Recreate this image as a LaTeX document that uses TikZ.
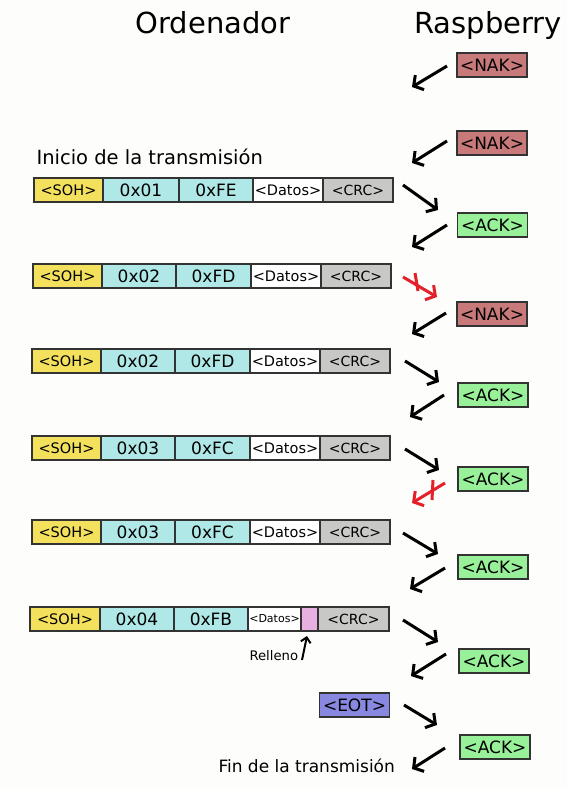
\documentclass[tikz,border=0pt]{standalone}
\usepackage{fontspec}
\setmainfont{DejaVu Sans}
\usetikzlibrary{arrows.meta}
\definecolor{bgc}{HTML}{FDFDFB}
\definecolor{sohc}{HTML}{F3E15E}
\definecolor{cyc}{HTML}{AFE8E6}
\definecolor{crcc}{HTML}{C8C8C6}
\definecolor{nakc}{HTML}{C87A7A}
\definecolor{ackc}{HTML}{98F098}
\definecolor{eotc}{HTML}{8888E0}
\definecolor{pinkc}{HTML}{E8B0E0}
\definecolor{bordc}{HTML}{333333}
\definecolor{redc}{HTML}{E4202A}
\newcommand\fs[1]{\fontsize{#1}{#1}\selectfont}
\newcommand\pktrow[7]{%
 \node[seg,fill=sohc,minimum width=69pt,anchor=north west,font=\fs{14.5}] (#1s) at (#2,#3) {<SOH>};
 \node[seg,fill=cyc,minimum width=#6pt,anchor=west] (#1n) at (#1s.east) {#4};
 \node[seg,fill=cyc,minimum width=#7pt,anchor=west] (#1c) at (#1n.east) {#5};
 \node[seg,fill=white,minimum width=70pt,anchor=west,font=\fs{14.5}] (#1d) at (#1c.east) {<Datos>};
 \node[seg,fill=crcc,minimum width=70pt,anchor=west,font=\fs{14}] (#1r) at (#1d.east) {<CRC>};
}
\begin{document}
\begin{tikzpicture}[x=1pt,y=-1pt,
  seg/.style={draw=bordc,line width=1.5pt,minimum height=24pt,inner sep=0pt,outer sep=0pt,font=\fs{17}},
  msg/.style={draw=bordc,line width=1.5pt,minimum height=24pt,minimum width=70pt,inner sep=0pt,outer sep=0pt,font=\fs{17}},
  flow/.style={line width=3pt,-{Straight Barb[length=7pt,width=17pt,line width=3pt]}},
  redflow/.style={flow,draw=redc},
  cross/.style={line width=3pt,draw=redc}]
\fill[bgc] (0,0) rectangle (567,789);
\useasboundingbox (0,0) rectangle (567,789);

% titles
\node[anchor=base,font=\fs{29}] (tord) at (213,34) {Ordenador};
\node[anchor=base,font=\fs{29}] (trasp) at (488,34) {Raspberry};
\node[anchor=base west,font=\fs{19.5}] (tini) at (33,164) {Inicio de la transmisión};
\node[anchor=base west,font=\fs{17}] (tfin) at (215,772) {Fin de la transmisión};

% packets
\pktrow{p1}{34}{178}{0x01}{0xFE}{76}{74}
\pktrow{p2}{33}{264}{0x02}{0xFD}{74}{75}
\pktrow{p3}{32}{349}{0x02}{0xFD}{74}{75}
\pktrow{p4}{32}{436}{0x03}{0xFC}{74}{75}
\pktrow{p5}{32}{520}{0x03}{0xFC}{74}{75}

\node[seg,fill=sohc,minimum width=70pt,anchor=north west,font=\fs{14.5}] (p6s) at (30,607) {<SOH>};
\node[seg,fill=cyc,minimum width=74pt,anchor=west] (p6n) at (p6s.east) {0x04};
\node[seg,fill=cyc,minimum width=74pt,anchor=west] (p6c) at (p6n.east) {0xFB};
\node[seg,fill=white,minimum width=53pt,anchor=west,font=\fs{11}] (p6d) at (p6c.east) {<Datos>};
\node[seg,fill=pinkc,minimum width=17pt,anchor=west] (p6p) at (p6d.east) {};
\node[seg,fill=crcc,minimum width=71pt,anchor=west,font=\fs{14}] (p6r) at (p6p.east) {<CRC>};
\node[anchor=base west,font=\fs{13.2}] (trel) at (246,660) {Relleno};
\coordinate (relA) at (302,660);
\coordinate (relB) at (307,636);
\draw[line width=2pt,-{Straight Barb[length=5pt,width=10pt,line width=2pt]}] (relA) -- (relB);

\node[msg,fill=eotc] (eot) at (354.5,705) {<EOT>};

% raspberry messages
\node[msg,fill=nakc] (m1) at (492,65) {<NAK>};
\node[msg,fill=nakc] (m2) at (492,143) {<NAK>};
\node[msg,fill=ackc] (m3) at (492.5,225) {<ACK>};
\node[msg,fill=nakc] (m4) at (492,314) {<NAK>};
\node[msg,fill=ackc] (m5) at (493,395) {<ACK>};
\node[msg,fill=ackc] (m6) at (493,479) {<ACK>};
\node[msg,fill=ackc] (m7) at (493,567) {<ACK>};
\node[msg,fill=ackc] (m8) at (494,661) {<ACK>};
\node[msg,fill=ackc] (m9) at (495,747) {<ACK>};

% arrow end points
\coordinate (a1s) at (447,66);  \coordinate (a1e) at (412,87);
\coordinate (a2s) at (447,141); \coordinate (a2e) at (412,163);
\coordinate (a3s) at (403,185); \coordinate (a3e) at (438,210);
\coordinate (a4s) at (447,225); \coordinate (a4e) at (412,247);
\coordinate (a5s) at (403,277); \coordinate (a5e) at (437,297);
\coordinate (a6s) at (446,313); \coordinate (a6e) at (412,334);
\coordinate (a7s) at (405,361); \coordinate (a7e) at (439,382);
\coordinate (a8s) at (444,395); \coordinate (a8e) at (410,417);
\coordinate (a9s) at (405,449); \coordinate (a9e) at (439,470);
\coordinate (a10s) at (445,483); \coordinate (a10e) at (412,503);
\coordinate (a11s) at (403,533); \coordinate (a11e) at (438,554);
\coordinate (a12s) at (445,568); \coordinate (a12e) at (410,589);
\coordinate (a13s) at (403,620); \coordinate (a13e) at (438,642);
\coordinate (a14s) at (446,654); \coordinate (a14e) at (411,676);
\coordinate (a15s) at (404,705); \coordinate (a15e) at (437,725);
\coordinate (a16s) at (445,748); \coordinate (a16e) at (412,769);

\foreach \i in {1,2,3,4,6,7,8,9,11,12,13,14,15,16}
  \draw[flow] (a\i s) -- (a\i e);
\draw[redflow] (a5s) -- (a5e);
\draw[redflow] (a10s) -- (a10e);

% crosses on lost messages
\coordinate (x1a) at (415,273); \coordinate (x1b) at (418,291);
\coordinate (x2a) at (433,480); \coordinate (x2b) at (432,500);
\draw[cross] (x1a) -- (x1b);
\draw[cross] (x2a) -- (x2b);
\end{tikzpicture}
\end{document}
